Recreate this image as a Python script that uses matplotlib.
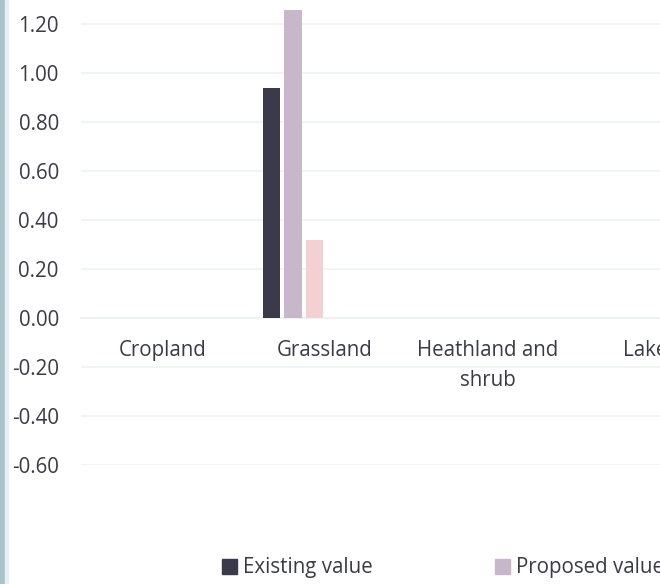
import numpy as np
import matplotlib
matplotlib.use("Agg")
import matplotlib.pyplot as plt
from matplotlib.patches import Patch, Rectangle

# chart values
categories = ["Cropland", "Grassland", "Heathland and\nshrub", "Lakes"]
existing_value = [0.0, 0.94, 0.0, 0.0]
proposed_value = [0.0, 1.26, 0.0, 0.0]
third_value = [0.0, 0.32, 0.0, 0.0]
y_ticks = [-0.6, -0.4, -0.2, 0.0, 0.2, 0.4, 0.6, 0.8, 1.0, 1.2]

plt.rcParams['font.family'] = ['Open Sans', 'DejaVu Sans']
text_color = '#3a3a49'
grid_color = '#eef2f2'
colors = ['#3b3a4a', '#c8b7ca', '#f3d1d3']
fs = 14.8

fig = plt.figure(figsize=(6.6, 5.84), dpi=100)
W, H = 660, 584
# axes placed in pixel terms, running past the right edge as in the cropped original
left_px, right_px = 81.25, 731.25
bottom_px, top_px = 465.3, -24.7
ax = fig.add_axes([left_px / W, (H - bottom_px) / H,
                   (right_px - left_px) / W, (bottom_px - top_px) / H])
ax.set_xlim(-0.5, 3.5)
ax.set_ylim(-0.6, 1.4)

x = np.arange(len(categories))
pitch = 0.132
width = 0.107
for j, (vals, c) in enumerate(zip([existing_value, proposed_value, third_value], colors)):
    ax.bar(x + (j - 2.5) * pitch, vals, width, color=c, linewidth=0, zorder=3)

for yv in y_ticks:
    ax.axhline(yv, color=grid_color, linewidth=1.2, zorder=1)

for s in ['top', 'right', 'left']:
    ax.spines[s].set_visible(False)
ax.spines['bottom'].set_position(('data', 0))
ax.spines['bottom'].set_color(grid_color)
ax.spines['bottom'].set_linewidth(1.2)

ax.set_yticks(y_ticks)
ax.set_yticklabels(['%.2f' % v for v in y_ticks])
ax.set_xticks(x)
ax.set_xticklabels(categories, linespacing=1.55)
ax.tick_params(axis='y', length=0, pad=16.2, labelsize=fs, labelcolor=text_color)
ax.tick_params(axis='x', length=0, pad=15.5, labelsize=fs, labelcolor=text_color)

handles = [Patch(color=colors[0], label='Existing value'),
           Patch(color=colors[1], label='Proposed value')]
fig.legend(handles=handles, loc='center left', bbox_to_anchor=(222 / W, (H - 568) / H),
           ncol=2, frameon=False, fontsize=fs, handlelength=0.72, handleheight=0.72,
           handletextpad=0.3, columnspacing=5.95, borderpad=0, borderaxespad=0,
           labelcolor=text_color)

# bluish strip along the left edge
fig.patches.append(Rectangle((0, 0), 5 / W, 1, transform=fig.transFigure,
                             color='#a9c3ca', zorder=0))
fig.patches.append(Rectangle((5 / W, 0), 3 / W, 1, transform=fig.transFigure,
                             color='#e6eef0', zorder=0))

fig.savefig('out.png', dpi=100)
